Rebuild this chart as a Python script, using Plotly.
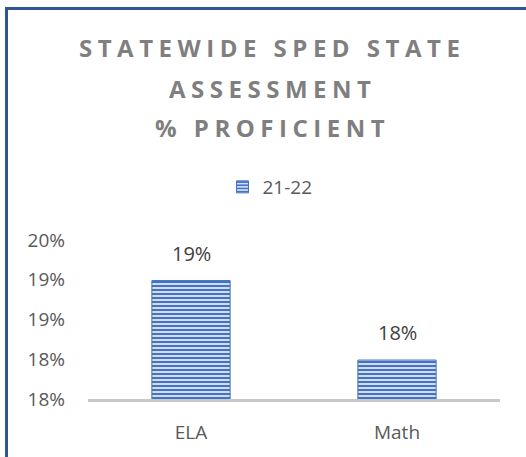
import plotly.graph_objs as go

# data
categories = ["ELA", "Math"]
proficient_2122 = [0.1949, 0.1849]
series_name = "21-22"
y_tickvals = [0.18, 0.185, 0.19, 0.195, 0.20]
y_ticktext = ["18%", "18%", "19%", "19%", "20%"]
title_lines = ["STATEWIDE SPED STATE", "ASSESSMENT", "% PROFICIENT"]

W, H = 526, 457
L, R, T, B = 88, 26, 240, 58
FONT = "Open Sans, Noto Sans, sans-serif"
FRAME = "#2F5597"


def px_x(p):
    # pixel column -> paper x
    return (p - L) / (W - L - R)


def px_y(p):
    # pixel row -> paper y
    return (H - B - p) / (H - T - B)


fig = go.Figure()

fig.add_trace(go.Bar(
    x=categories,
    y=proficient_2122,
    name=series_name,
    marker=dict(
        color="#C9D5EC",
        line=dict(color="#4472C4", width=1),
        pattern=dict(shape="-", fgcolor="#4472C4", bgcolor="#D2DCEF",
                     size=4, solidity=0.5, fillmode="replace"),
    ),
    showlegend=True,
    hoverinfo="x+y",
))

# data labels above bars
for c, v in zip(categories, proficient_2122):
    fig.add_annotation(
        x=c, y=v, text=f"{v:.0%}", showarrow=False,
        yanchor="bottom", yshift=12,
        font=dict(family=FONT, size=20, color="#404040"),
    )

# title, one annotation per line so the line spacing can match
for line, row in zip(title_lines, [48, 88, 128]):
    fig.add_annotation(
        x=px_x(272), y=px_y(row), xref="paper", yref="paper",
        text=f'<span style="letter-spacing:5.5px">{line}</span>',
        showarrow=False, xanchor="center", yanchor="middle",
        font=dict(family=FONT, size=24, color="#7F7F7F", weight="bold"),
    )

fig.update_layout(
    width=W, height=H,
    margin=dict(l=L, r=R, t=T, b=B),
    paper_bgcolor="white",
    plot_bgcolor="white",
    bargap=0.62,
    font=dict(family=FONT, size=19, color="#595959"),
    showlegend=True,
    legend=dict(
        orientation="h", x=px_x(270), y=px_y(187),
        xanchor="center", yanchor="middle",
        font=dict(family=FONT, size=19, color="#595959"),
        itemwidth=30,
    ),
    xaxis=dict(
        showgrid=False, showline=True, linecolor="#C8C8C8", linewidth=3,
        ticks="", ticklabelstandoff=14,
        tickfont=dict(family=FONT, size=19, color="#595959"),
    ),
    yaxis=dict(
        range=[0.18, 0.20], showgrid=False, showline=False, zeroline=False,
        tickvals=y_tickvals, ticktext=y_ticktext, ticks="",
        ticklabelstandoff=22,
        tickfont=dict(family=FONT, size=19, color="#595959"),
    ),
)

# drop the page margin so the figure sits at the window's top-left corner,
# and draw the chart-area frame (only its left and top edges are in view)
js = f"""
document.body.style.margin = '0';
var frame = document.createElement('div');
frame.style.cssText = 'position:absolute;left:5px;top:7px;width:700px;height:700px;'
  + 'border-left:3px solid {FRAME};border-top:3px solid {FRAME};'
  + 'pointer-events:none;z-index:1000;box-sizing:border-box;';
document.body.appendChild(frame);
"""
fig.write_html("out.html", config={"displayModeBar": False}, post_script=js)
